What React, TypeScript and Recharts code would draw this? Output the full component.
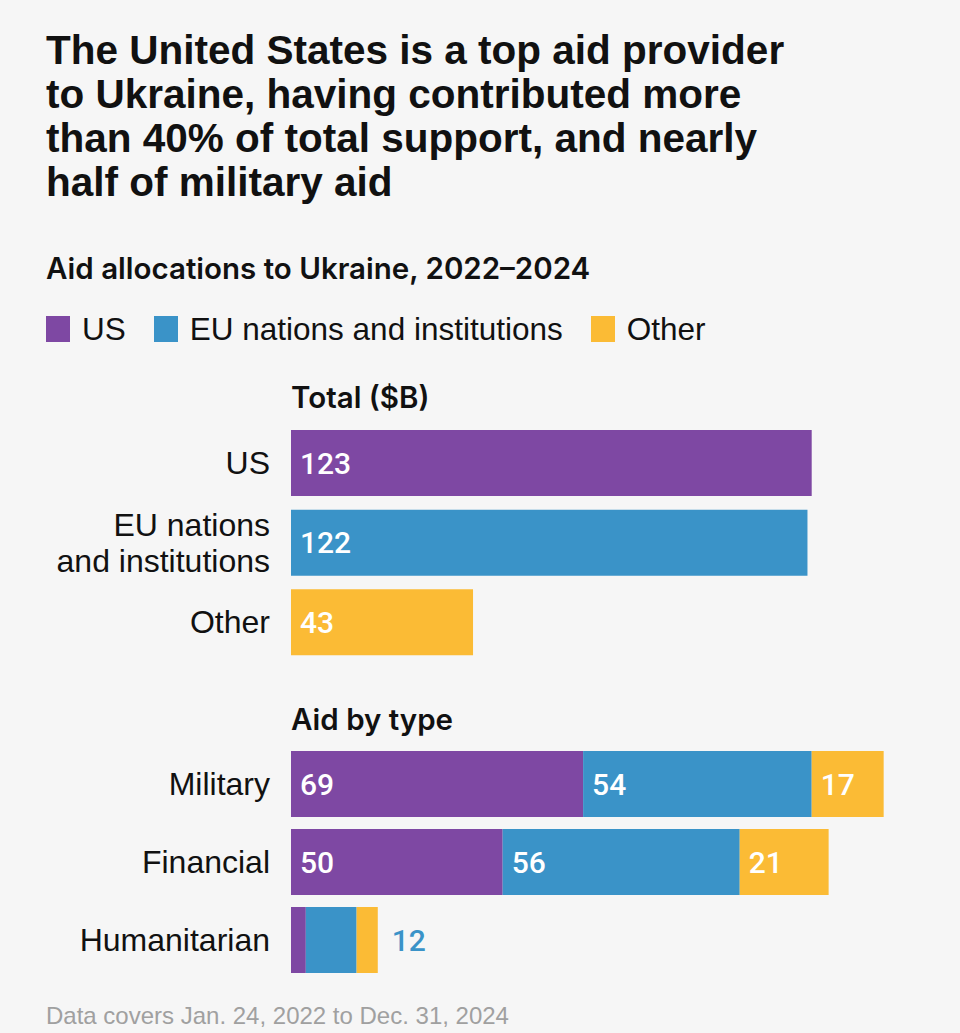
import React from "react";
import { BarChart, Bar, XAxis, YAxis, Cell, LabelList } from "recharts";

const totalCategories = ["US", "EU nations and institutions", "Other"];
const totalValues = [123, 122, 43];

const typeCategories = ["Military", "Financial", "Humanitarian"];
const usByType = [69, 50, 3.5];
const euByType = [54, 56, 12];
const otherByType = [17, 21, 5];

const legendItems = ["US", "EU nations and institutions", "Other"];

const PURPLE = "#7e48a3";
const BLUE = "#3a93c8";
const YELLOW = "#fbbb35";
const colors = [PURPLE, BLUE, YELLOW];

const SANS = "'Liberation Sans', Arial, sans-serif";
const NUM = "Roboto, 'Liberation Sans', sans-serif";
const HEAD = "Inter, 'Liberation Sans', sans-serif";

const tickLines: Record<string, string[]> = {
  "EU nations and institutions": ["EU nations", "and institutions"],
};

function CategoryTick(props: any) {
  const { x, y, payload } = props;
  const lines = tickLines[payload.value] || [payload.value];
  const lh = 36;
  const start = -((lines.length - 1) * lh) / 2;
  return (
    <text x={x} y={y} textAnchor="end" fill="#111" fontSize={32} fontFamily={SANS}>
      {lines.map((l, i) => (
        <tspan key={i} x={x} dy={i === 0 ? start : lh} dominantBaseline="central">
          {l}
        </tspan>
      ))}
    </text>
  );
}

const totalData = totalCategories.map((name, i) => ({ name, value: totalValues[i] }));
const typeData = typeCategories.map((name, i) => ({
  name,
  us: usByType[i],
  eu: euByType[i],
  other: otherByType[i],
}));

// humanitarian row is too thin for inside labels, EU value goes after the bar
const typeLabelInside = [true, true, false];

function InsideLabel(props: any) {
  const { x, y, height, value } = props;
  return (
    <text
      x={x + 9}
      y={y + height / 2}
      dominantBaseline="central"
      fill="#fff"
      fontSize={30}
      fontWeight={500}
      fontFamily={NUM}
    >
      {value}
    </text>
  );
}

function TypeLabel(props: any) {
  if (!typeLabelInside[props.index]) return null;
  return <InsideLabel {...props} />;
}

function OtherLabel(props: any) {
  const { x, y, width, height, index } = props;
  if (!typeLabelInside[index]) {
    return (
      <text
        x={x + width + 14}
        y={y + height / 2}
        dominantBaseline="central"
        fill={BLUE}
        fontSize={30}
        fontWeight={500}
        fontFamily={NUM}
      >
        {euByType[index]}
      </text>
    );
  }
  return <InsideLabel {...props} />;
}

const headStyle: React.CSSProperties = {
  position: "absolute",
  fontSize: 29.5,
  fontWeight: 600,
  fontFamily: HEAD,
};

export default function App() {
  return (
    <div
      style={{
        position: "absolute",
        left: 0,
        top: 0,
        width: 960,
        height: 1033,
        background: "#f6f6f6",
        overflow: "hidden",
        fontFamily: SANS,
        color: "#111",
      }}
    >
      <div
        style={{
          position: "absolute",
          left: 46,
          top: 28,
          width: 900,
          fontSize: 40.5,
          lineHeight: "44px",
          fontWeight: 700,
        }}
      >
        The United States is a top aid provider
        <br />
        to Ukraine, having contributed more
        <br />
        than 40% of total support, and nearly
        <br />
        half of military aid
      </div>

      <div style={{ ...headStyle, left: 46, top: 250 }}>
        Aid allocations to Ukraine, 2022–2024
      </div>

      <div style={{ position: "absolute", left: 46, top: 312, display: "flex", alignItems: "center" }}>
        {legendItems.map((item, i) => (
          <div key={item} style={{ display: "flex", alignItems: "center", marginRight: 28 }}>
            <div style={{ width: 24, height: 26, background: colors[i], marginRight: 12 }} />
            <span style={{ fontSize: 31.5, lineHeight: "34px" }}>{item}</span>
          </div>
        ))}
      </div>

      <div style={{ ...headStyle, left: 291, top: 379 }}>Total ($B)</div>

      <div style={{ position: "absolute", left: 0, top: 423 }}>
        <BarChart
          width={960}
          height={239}
          data={totalData}
          layout="vertical"
          margin={{ top: 0, right: 34, left: 0, bottom: 0 }}
          barSize={66}
        >
          <XAxis type="number" domain={[0, 150]} hide />
          <YAxis
            type="category"
            dataKey="name"
            width={291}
            axisLine={false}
            tickLine={false}
            tickSize={0}
            tickMargin={21}
            tick={<CategoryTick />}
          />
          <Bar dataKey="value" isAnimationActive={false}>
            {totalData.map((d, i) => (
              <Cell key={d.name} fill={colors[i]} />
            ))}
            <LabelList dataKey="value" content={<InsideLabel />} />
          </Bar>
        </BarChart>
      </div>

      <div style={{ ...headStyle, left: 291, top: 701 }}>Aid by type</div>

      <div style={{ position: "absolute", left: 0, top: 745 }}>
        <BarChart
          width={960}
          height={234}
          data={typeData}
          layout="vertical"
          margin={{ top: 0, right: 34, left: 0, bottom: 0 }}
          barSize={66}
        >
          <XAxis type="number" domain={[0, 150]} hide />
          <YAxis
            type="category"
            dataKey="name"
            width={291}
            axisLine={false}
            tickLine={false}
            tickSize={0}
            tickMargin={21}
            tick={<CategoryTick />}
          />
          <Bar dataKey="us" stackId="a" fill={PURPLE} isAnimationActive={false}>
            <LabelList dataKey="us" content={<TypeLabel />} />
          </Bar>
          <Bar dataKey="eu" stackId="a" fill={BLUE} isAnimationActive={false}>
            <LabelList dataKey="eu" content={<TypeLabel />} />
          </Bar>
          <Bar dataKey="other" stackId="a" fill={YELLOW} isAnimationActive={false}>
            <LabelList dataKey="other" content={<OtherLabel />} />
          </Bar>
        </BarChart>
      </div>

      <div
        style={{
          position: "absolute",
          left: 46,
          top: 1002,
          fontSize: 24,
          lineHeight: "28px",
          color: "#a0a0a0",
          whiteSpace: "nowrap",
        }}
      >
        Data covers Jan. 24, 2022 to Dec. 31, 2024
      </div>
    </div>
  );
}
